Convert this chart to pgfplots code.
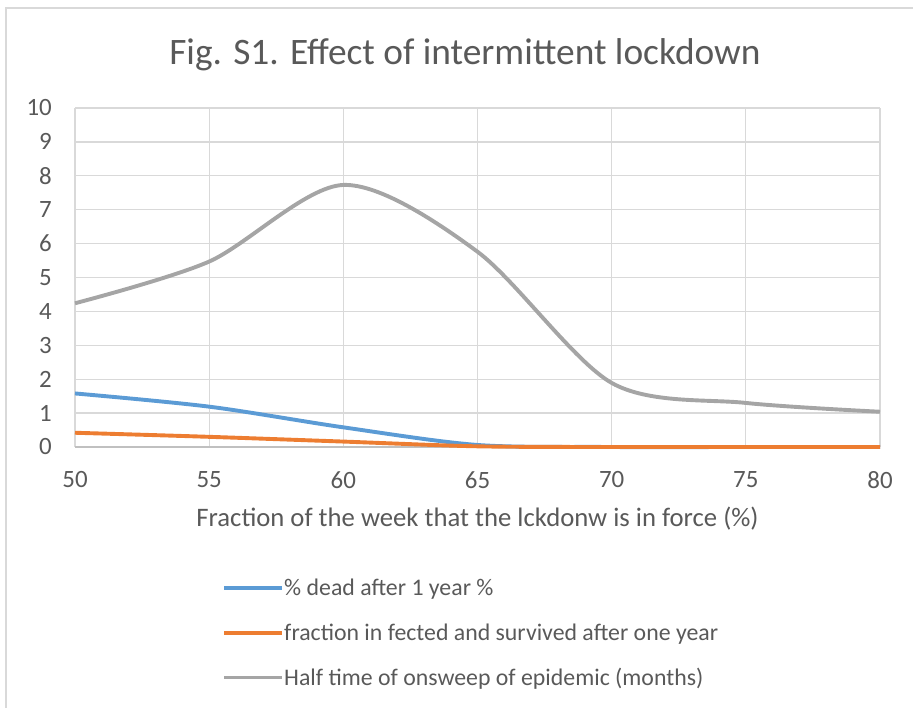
\documentclass[border=0pt]{standalone}
\usepackage{fontspec}
\setmainfont{Carlito}
\usepackage{pgfplots}
\pgfplotsset{compat=1.18}
\definecolor{serA}{HTML}{5B9BD5}
\definecolor{serB}{HTML}{ED7D31}
\definecolor{serC}{HTML}{A5A5A5}
\definecolor{gridc}{HTML}{D9D9D9}
\definecolor{txt}{HTML}{595959}
\begin{document}
\begin{tikzpicture}
\useasboundingbox (0bp,0bp) rectangle (913bp,708bp);
\draw[color=gridc, line width=1.3bp] (6bp,0bp) -- (6bp,700bp) -- (913bp,700bp);
\node[text=txt, font=\fontsize{37.5}{44}\selectfont] at (465bp,653bp) {Fig. S1. Effect of intermittent lockdown};
\begin{axis}[
  at={(75bp,261bp)}, anchor=south west,
  scale only axis, width=805bp, height=339bp,
  xmin=50, xmax=80, ymin=0, ymax=10,
  xtick={50,55,...,80}, ytick={0,1,...,10},
  grid=major, major grid style={color=gridc, line width=1.3bp},
  axis line style={draw=none},
  major tick length=0pt,
  tick label style={font=\fontsize{25}{30}\selectfont, text=txt, inner sep=0pt},
  /pgf/number format/assume math mode=true,
  yticklabel style={anchor=east, xshift=-23bp},
  xticklabel style={anchor=north, yshift=-24bp},
  xlabel={Fraction of the week that the lckdonw is in force (\%)},
  xlabel style={font=\fontsize{26.8}{31}\selectfont, text=txt, at={(axis description cs:0.5,-0.212)}, anchor=center},
  legend style={at={(axis description cs:0.1826,-0.385)}, anchor=north west, draw=none, fill=none,
    font=\fontsize{23.9}{28}\selectfont, text=txt, row sep=23.4bp, inner sep=0pt,
    nodes={inner ysep=1.5bp, inner xsep=0.3bp}},
  legend cell align=left,
  legend image code/.code={\draw[#1, line width=3.75bp] (0bp,0bp) -- (58bp,0bp);},
  every axis plot/.append style={line width=3.9bp, smooth, tension=0.5, no markers},
  clip=false,
]
\draw[color=serC!70!white, line width=1.5bp] (axis cs:50,0) -- (axis cs:80,0);
\addplot[color=serA] coordinates {(50,1.58) (55,1.19) (60,0.58) (65,0.06) (70,0.0) (75,0.0) (80,0.0)};
\addlegendentry{\% dead after 1 year \%}
\addplot[color=serB] coordinates {(50,0.42) (55,0.30) (60,0.16) (65,0.02) (70,0.0) (75,0.0) (80,0.0)};
\addlegendentry{fraction in fected and survived after one year}
\addplot[color=serC] coordinates {(50,4.24) (55,5.47) (60,7.73) (65,5.76) (70,1.89) (75,1.30) (80,1.04)};
\addlegendentry{Half time of onsweep of epidemic (months)}
\end{axis}
\end{tikzpicture}
\end{document}
